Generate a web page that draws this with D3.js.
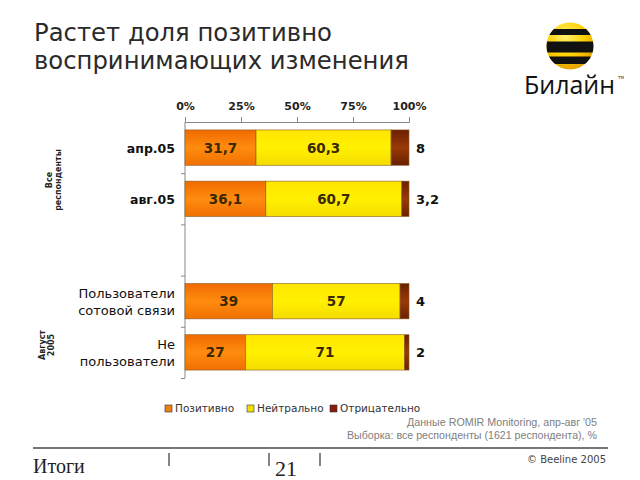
<!DOCTYPE html>
<html><head><meta charset="utf-8">
<script src="https://cdn.jsdelivr.net/npm/d3@7"></script>
<style>body{margin:0;background:#fff}svg{display:block}</style>
</head><body><svg id="c" width="640" height="480"></svg>
<script>
const categories = ["апр.05", "авг.05", "", "Пользователи|сотовой связи", "Не|пользователи"];
const positive = [31.7, 36.1, null, 39, 27];
const neutral  = [60.3, 60.7, null, 57, 71];
const negative = [8, 3.2, null, 4, 2];
const seriesNames = ["Позитивно", "Нейтрально", "Отрицательно"];
const tickValues = [0, 25, 50, 75, 100];
const groupLabels = [["Все", "респонденты"], ["Август", "2005"]];

const svg = d3.select("#c");
const defs = svg.append("defs");
function grad(id, stops){
  const g = defs.append("linearGradient").attr("id", id).attr("x1",0).attr("y1",0).attr("x2",0).attr("y2",1);
  stops.forEach(s=>g.append("stop").attr("offset", s[0]).attr("stop-color", s[1]));
}
grad("gPos", [[0,"#f06a00"],[0.5,"#ff8c10"],[1,"#f07000"]]);
grad("gNeu", [[0,"#ffe600"],[0.5,"#fff000"],[1,"#f5dc00"]]);
grad("gNeg", [[0,"#6a2000"],[0.5,"#9a3a08"],[1,"#6a2000"]]);
const fills = ["url(#gPos)", "url(#gNeu)", "url(#gNeg)"];
const legendColors = ["#f08010", "#f0e000", "#8a1a10"];

// Title
const title = svg.append("text").attr("font-family","DejaVu Sans, Verdana, sans-serif").attr("font-size",24.3).attr("fill","#2a2a2a");
title.append("tspan").attr("x",34).attr("y",41).text("Растет доля позитивно");
title.append("tspan").attr("x",34).attr("y",69).text("воспринимающих изменения");

// Logo
const logo = svg.append("g");
const lg = defs.append("radialGradient").attr("id","ball").attr("cx","0.4").attr("cy","0.3").attr("r","0.75");
lg.append("stop").attr("offset",0).attr("stop-color","#fff06a");
lg.append("stop").attr("offset",0.55).attr("stop-color","#ffd000");
lg.append("stop").attr("offset",1).attr("stop-color","#e09a00");
defs.append("clipPath").attr("id","ballclip").append("circle").attr("cx",570).attr("cy",46).attr("r",23.5);
logo.append("circle").attr("cx",570).attr("cy",46).attr("r",23.5).attr("fill","url(#ball)");
const stripes = logo.append("g").attr("clip-path","url(#ballclip)");
[[29,6],[41.5,11],[56.5,7.5]].forEach(s=>stripes.append("rect").attr("x",540).attr("y",s[0]).attr("width",62).attr("height",s[1]).attr("fill","#111"));
logo.append("text").attr("x",524).attr("y",94).attr("font-family","Open Sans, sans-serif").attr("font-size",25).attr("fill","#111")
  .attr("textLength",91).attr("lengthAdjust","spacingAndGlyphs").text("Билайн");
logo.append("text").attr("x",618).attr("y",79).attr("font-family","DejaVu Sans, sans-serif").attr("font-size",4).attr("fill","#333").text("TM");

// Chart
const x = d3.scaleLinear().domain([0,100]).range([185,409]);
const y = d3.scaleBand().domain(d3.range(categories.length)).range([122,378]).paddingInner(0.31).paddingOuter(0.155);

const axTop = svg.append("g").attr("transform","translate(0,122)")
  .call(d3.axisTop(x).tickValues(tickValues).tickSize(5).tickPadding(7).tickFormat(d=>d+"%"));
axTop.select(".domain").attr("stroke","#888");
axTop.selectAll(".tick line").attr("stroke","#888");
axTop.selectAll("text").attr("font-family","DejaVu Sans, Verdana, sans-serif").attr("font-weight","bold").attr("font-size",11).attr("fill","#222");

// left axis line with ticks at band boundaries
const yLin = d3.scaleLinear().domain([0,categories.length]).range([122,378]);
const axLeft = svg.append("g").attr("transform","translate(185,0)")
  .call(d3.axisLeft(yLin).tickValues(d3.range(1,categories.length+1)).tickSize(4).tickFormat(""));
axLeft.select(".domain").attr("stroke","#888").attr("d","M0,122V378");
axLeft.selectAll(".tick line").attr("stroke","#888");

const rows = categories.map((c,i)=>({c,i,vals:[positive[i],neutral[i],negative[i]]}));
rows.forEach(r=>{
  if (r.vals[0]==null) return;
  let acc = 0;
  r.vals.forEach((v,k)=>{
    svg.append("rect").attr("x",x(acc)).attr("y",y(r.i)).attr("width",x(acc+v)-x(acc)).attr("height",y.bandwidth())
      .attr("fill",fills[k]).attr("stroke","#8a5a20").attr("stroke-width",0.6);
    if (k<2) {
      svg.append("text").attr("x",(x(acc)+x(acc+v))/2).attr("y",y(r.i)+y.bandwidth()/2+5)
        .attr("text-anchor","middle").attr("font-family","DejaVu Sans, Verdana, sans-serif").attr("font-weight","bold")
        .attr("font-size",13.5).attr("fill","#3a2800").text(String(v).replace(".",","));
    } else {
      svg.append("text").attr("x",416).attr("y",y(r.i)+y.bandwidth()/2+5)
        .attr("font-family","DejaVu Sans, Verdana, sans-serif").attr("font-weight","bold")
        .attr("font-size",13).attr("fill","#111").text(String(v).replace(".",","));
    }
    acc += v;
  });
  const lines = r.c.split("|");
  const t = svg.append("text").attr("text-anchor","end").attr("font-family","DejaVu Sans, Verdana, sans-serif")
    .attr("font-size",lines.length===1?12.5:13).attr("fill","#111").attr("font-weight", lines.length===1?"bold":"normal");
  const cy = y(r.i)+y.bandwidth()/2;
  lines.forEach((l,j)=>t.append("tspan").attr("x",175).attr("y",cy+5+(j-(lines.length-1)/2)*17).text(l));
});

// group labels (rotated)
[[52,180],[45,345]].forEach((p,gi)=>{
  const t = svg.append("text").attr("transform",`translate(${p[0]},${p[1]}) rotate(-90)`).attr("text-anchor","middle")
    .attr("font-family","DejaVu Sans, Verdana, sans-serif").attr("font-weight","bold").attr("font-size",8).attr("fill","#222");
  groupLabels[gi].forEach((l,j)=>t.append("tspan").attr("x",0).attr("y",j*9).text(l));
});

// legend
const legX = [165,247,330];
seriesNames.forEach((n,i)=>{
  svg.append("rect").attr("x",legX[i]).attr("y",405).attr("width",7).attr("height",7).attr("fill",legendColors[i]).attr("stroke","#333").attr("stroke-width",0.6);
  svg.append("text").attr("x",legX[i]+10).attr("y",412).attr("font-family","DejaVu Sans, Verdana, sans-serif").attr("font-size",10.5).attr("fill","#333").text(n);
});

// source
svg.append("text").attr("x",597).attr("y",426).attr("text-anchor","end").attr("font-family","Liberation Sans, Arial, sans-serif").attr("font-size",10)
  .attr("textLength",190).attr("lengthAdjust","spacingAndGlyphs").attr("fill","#808080").text("Данные ROMIR Monitoring, апр-авг '05");
svg.append("text").attr("x",597).attr("y",439).attr("text-anchor","end").attr("font-family","Liberation Sans, Arial, sans-serif").attr("font-size",10)
  .attr("textLength",250).attr("lengthAdjust","spacingAndGlyphs").attr("fill","#808080").text("Выборка: все респонденты (1621 респондента), %");

// footer
svg.append("line").attr("x1",33).attr("x2",608).attr("y1",448).attr("y2",448).attr("stroke","#777").attr("stroke-width",2);
svg.append("text").attr("x",33).attr("y",473).attr("font-family","Liberation Serif, Times New Roman, serif").attr("font-size",20).attr("fill","#222").text("Итоги");
[169,269,320].forEach(xx=>svg.append("line").attr("x1",xx).attr("x2",xx).attr("y1",453).attr("y2",466).attr("stroke","#333").attr("stroke-width",1.2));
svg.append("text").attr("x",275).attr("y",476).attr("font-family","Liberation Serif, Times New Roman, serif").attr("font-size",22).attr("fill","#222").text("21");
svg.append("text").attr("x",606).attr("y",463).attr("text-anchor","end").attr("font-family","DejaVu Sans, Verdana, sans-serif").attr("font-size",10).attr("fill","#444").text("© Beeline 2005");
</script></body></html>
